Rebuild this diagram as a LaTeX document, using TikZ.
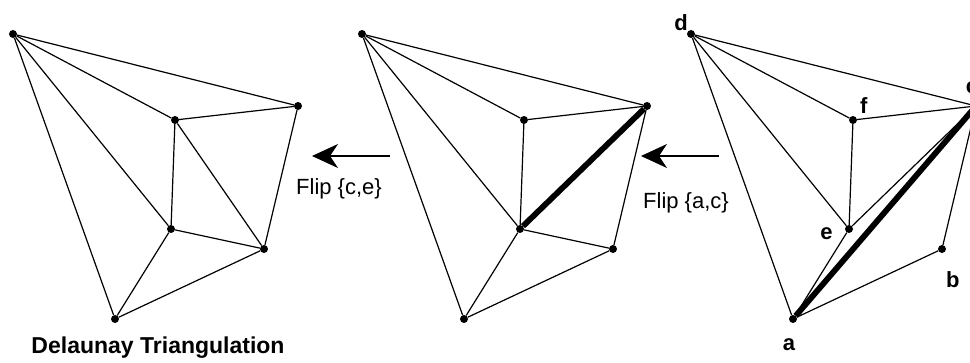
\documentclass[tikz,border=0pt]{standalone}
\usepackage{fontspec}
\setmainfont{Liberation Sans}
\usepackage{tikz}
\usetikzlibrary{arrows.meta,positioning}
\definecolor{ink}{HTML}{000000}
\tikzset{
  vtx/.style={circle, fill=ink, inner sep=0pt, minimum size=8pt},
  edge/.style={draw=ink, line width=1.2pt},
  flipped/.style={draw=ink, line width=5.8pt},
  vlabel/.style={inner sep=0pt, font=\fontsize{22}{26}\selectfont\bfseries},
  steplabel/.style={inner sep=0pt, font=\fontsize{22}{26}\selectfont},
  caption/.style={inner sep=0pt, font=\fontsize{23}{27}\selectfont\bfseries},
  fliparrow/.style={-{Stealth[length=26pt, width=24pt, inset=8pt]}, draw=ink, line width=1.2pt}
}

\begin{document}
\begin{tikzpicture}[x=1pt, y=-1pt]
  \useasboundingbox (0,0) rectangle (970,362);
  % left: result after both flips
  \node[vtx] (d1) at (13,34) {};
  \node[vtx] (c1) at (298,106) {};
  \node[vtx] (f1) at (175,120) {};
  \node[vtx] (e1) at (171,229) {};
  \node[vtx] (b1) at (264,249) {};
  \node[vtx] (a1) at (115,319) {};
  % middle
  \node[vtx] (d2) at (362,34) {};
  \node[vtx] (c2) at (647,106) {};
  \node[vtx] (f2) at (524,120) {};
  \node[vtx] (e2) at (520,229) {};
  \node[vtx] (b2) at (613,249) {};
  \node[vtx] (a2) at (464,319) {};
  % right: start
  \node[vtx] (d3) at (691,34) {};
  \node[vtx] (c3) at (976,106) {};
  \node[vtx] (f3) at (853,120) {};
  \node[vtx] (e3) at (849,229) {};
  \node[vtx] (b3) at (942,249) {};
  \node[vtx] (a3) at (793,319) {};
  % edges every panel shares
  \foreach \p in {1,2,3} {
    \draw[edge] (d\p) -- (c\p);
    \draw[edge] (d\p) -- (f\p);
    \draw[edge] (d\p) -- (e\p);
    \draw[edge] (d\p) -- (a\p);
    \draw[edge] (f\p) -- (c\p);
    \draw[edge] (f\p) -- (e\p);
    \draw[edge] (c\p) -- (b\p);
    \draw[edge] (e\p) -- (a\p);
    \draw[edge] (a\p) -- (b\p);
  }
  \draw[edge] (f1) -- (b1);
  \draw[edge] (e1) -- (b1);
  \draw[flipped] (e2) -- (c2);
  \draw[edge] (e2) -- (b2);
  \draw[edge] (e3) -- (c3);
  \draw[flipped] (a3) -- (c3);
  % vertex names
  \node[vlabel, above left=0pt of d3] (ld) {d};
  \node[vlabel, above right=3pt and 4pt of f3] (lf) {f};
  \node[vlabel, left=12pt of e3, yshift=-5pt] (le) {e};
  \node[vlabel, below right=19pt and 1pt of b3] (lb) {b};
  \node[vlabel, below=15pt of a3, xshift=-4pt] (la) {a};
  \node[vlabel, above=8pt of c3, xshift=-4pt] (lc) {c};
  % flip arrows
  \coordinate (s1) at (390,156);
  \coordinate (t1) at (312,156);
  \coordinate (s2) at (719,156);
  \coordinate (t2) at (641,156);
  \draw[fliparrow] (s1) -- (t1);
  \draw[fliparrow] (s2) -- (t2);
  \node[steplabel] (fce) at (339,189) {Flip \{c,e\}};
  \node[steplabel] (fac) at (686,203) {Flip \{a,c\}};
  \node[caption] (cap) at (158,348) {Delaunay Triangulation};
\end{tikzpicture}
\end{document}
